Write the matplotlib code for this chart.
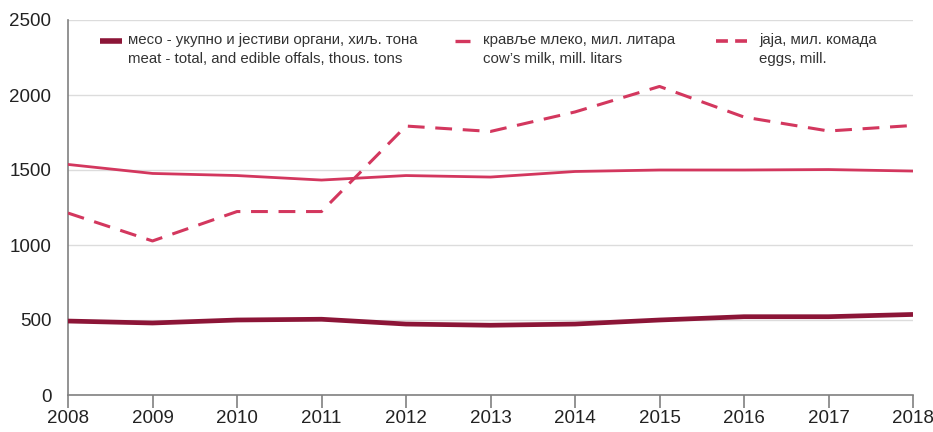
import matplotlib
matplotlib.use("Agg")
import matplotlib.pyplot as plt
from matplotlib.lines import Line2D

plt.rcParams['font.family'] = ['Liberation Sans', 'DejaVu Sans']

years = [2008, 2009, 2010, 2011, 2012, 2013, 2014, 2015, 2016, 2017, 2018]
meat = [493, 480, 500, 505, 473, 465, 473, 500, 522, 522, 537]
milk = [1537, 1477, 1463, 1433, 1463, 1453, 1490, 1500, 1500, 1503, 1493]
eggs = [1213, 1027, 1223, 1223, 1793, 1757, 1887, 2057, 1853, 1760, 1797]

labels = [
    "месо - укупно и јестиви органи, хиљ. тона\nmeat - total, and edible offals, thous. tons",
    "крављe млеко, мил. литара\ncow’s milk, mill. litars",
    "jaja, мил. комада\neggs, mill.",
]
yticks = [0, 500, 1000, 1500, 2000, 2500]

c_meat = "#8c1537"
c_red = "#d3375e"

fig = plt.figure(figsize=(9.33, 4.32), dpi=100)
ax = fig.add_axes([68/933, 1 - 395/432, (913-68)/933, (395-20)/432])

ax.plot(years, meat, color=c_meat, lw=3.4, solid_capstyle='butt', zorder=3)
ax.plot(years, milk, color=c_red, lw=2.0, zorder=3)
ax.plot(years, eggs, color=c_red, lw=2.2, dashes=(5.5, 3.5), zorder=3)

ax.set_xlim(2008, 2018)
ax.set_ylim(0, 2500)
ax.set_xticks(years)
ax.set_yticks(yticks)
ax.grid(axis='y', color='#dcdcdc', lw=1.0, zorder=0)
for s in ['top', 'right']:
    ax.spines[s].set_visible(False)
for s in ['left', 'bottom']:
    ax.spines[s].set_color('#808080')
    ax.spines[s].set_linewidth(1.2)
ax.tick_params(axis='y', length=0, pad=12, labelsize=13.5, labelcolor='#222222')
ax.tick_params(axis='x', length=9, width=1.2, color='#808080', pad=2, labelsize=13.5, labelcolor='#222222')

# legend (manual)
handle_specs = [
    (32/845, 54/845, dict(color=c_meat, lw=4, solid_capstyle='butt')),
    (387/845, 402/845, dict(color=c_red, lw=2.4, solid_capstyle='butt')),
    (648/845, 679/845, dict(color=c_red, lw=2.6, dashes=(3.3, 2.0))),
]
text_x = [60/845, 415/845, 691/845]
y_h = 1 - 21/375
for (x0, x1, kw), tx, lab in zip(handle_specs, text_x, labels):
    ax.add_line(Line2D([x0, x1], [y_h, y_h], transform=ax.transAxes, **kw))
    ax.text(tx, 1 - 13/375, lab, transform=ax.transAxes, ha='left', va='top',
            fontsize=10.8, color='#333333', linespacing=1.45)

fig.savefig("out.png", dpi=100, facecolor='white')
